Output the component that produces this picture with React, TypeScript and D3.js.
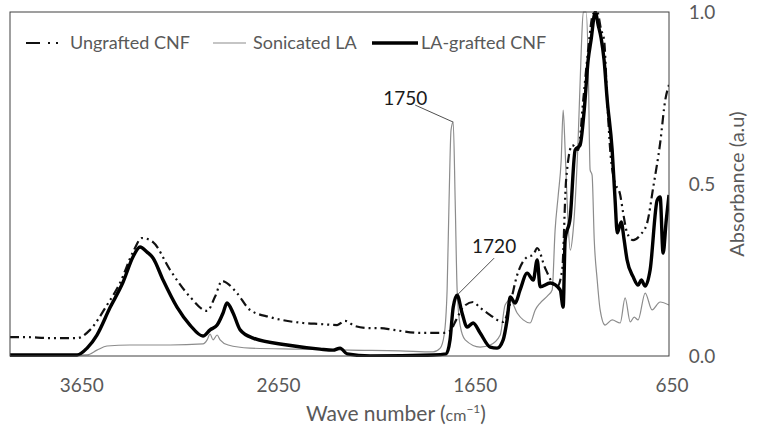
import { useEffect, type FC } from 'react';
import * as d3 from 'd3';

// wave number (cm-1), absorbance (a.u)
const ungraftedCNF: [number, number][] = [
  [4000, 0.055], [3924, 0.055], [3797, 0.052], [3659, 0.052], [3593, 0.076],
  [3507, 0.148], [3441, 0.212], [3375, 0.302], [3329, 0.343], [3273, 0.331],
  [3186, 0.25], [3085, 0.172], [2998, 0.131], [2958, 0.172], [2922, 0.218],
  [2897, 0.212], [2846, 0.183], [2780, 0.134], [2678, 0.113], [2510, 0.096],
  [2424, 0.093], [2337, 0.09], [2297, 0.102], [2246, 0.087], [2169, 0.081],
  [2119, 0.081], [2052, 0.076], [1915, 0.067], [1798, 0.067], [1763, 0.073],
  [1732, 0.105], [1696, 0.142], [1646, 0.157], [1610, 0.14], [1559, 0.119],
  [1524, 0.105], [1493, 0.099], [1457, 0.154], [1422, 0.235], [1371, 0.288],
  [1340, 0.294], [1320, 0.314], [1280, 0.256], [1219, 0.201], [1193, 0.25],
  [1173, 0.512], [1142, 0.613], [1112, 0.599], [1086, 0.744], [1061, 0.89],
  [1036, 0.994], [1015, 1.0], [995, 0.948], [980, 0.919], [964, 0.744],
  [949, 0.599], [929, 0.512], [898, 0.468], [883, 0.416], [863, 0.358],
  [832, 0.337], [796, 0.352], [761, 0.387], [730, 0.491], [695, 0.619],
  [669, 0.744], [650, 0.788],
];

const sonicatedLA: [number, number][] = [
  [4000, 0.0], [3608, 0.003], [3558, 0.017], [3507, 0.029], [3390, 0.032],
  [3186, 0.032], [3019, 0.035], [2998, 0.047], [2983, 0.064], [2968, 0.047],
  [2947, 0.061], [2932, 0.047], [2891, 0.032], [2780, 0.023], [2525, 0.02],
  [2271, 0.017], [2017, 0.015], [1849, 0.012], [1813, 0.023], [1793, 0.061],
  [1778, 0.192], [1768, 0.453], [1758, 0.657], [1747, 0.68], [1737, 0.453],
  [1727, 0.192], [1712, 0.09], [1686, 0.047], [1610, 0.026], [1559, 0.032],
  [1508, 0.061], [1483, 0.148], [1457, 0.163], [1422, 0.125], [1391, 0.105],
  [1356, 0.096], [1330, 0.134], [1305, 0.154], [1264, 0.177], [1244, 0.192],
  [1229, 0.366], [1213, 0.468], [1198, 0.57], [1188, 0.715], [1178, 0.599],
  [1168, 0.453], [1152, 0.308], [1137, 0.366], [1112, 0.628], [1096, 0.89],
  [1086, 1.0], [1071, 1.0], [1061, 0.86], [1051, 0.541], [1041, 0.526],
  [1030, 0.337], [1015, 0.221], [1000, 0.134], [975, 0.09], [939, 0.105],
  [898, 0.096], [873, 0.169], [847, 0.099], [827, 0.113], [807, 0.105],
  [771, 0.183], [736, 0.134], [695, 0.157], [650, 0.148],
];

const laGraftedCNF: [number, number][] = [
  [4000, 0.003], [3659, 0.003], [3608, 0.023], [3558, 0.061], [3492, 0.14],
  [3425, 0.215], [3375, 0.288], [3339, 0.317], [3303, 0.302], [3273, 0.285],
  [3222, 0.221], [3151, 0.142], [3085, 0.09], [3019, 0.058], [2983, 0.076],
  [2947, 0.09], [2917, 0.125], [2897, 0.154], [2866, 0.125], [2830, 0.076],
  [2764, 0.052], [2591, 0.032], [2424, 0.02], [2358, 0.017], [2322, 0.023],
  [2286, 0.006], [2169, 0.0], [1849, 0.003], [1783, 0.006], [1763, 0.047],
  [1747, 0.142], [1727, 0.177], [1702, 0.125], [1676, 0.084], [1646, 0.096],
  [1610, 0.067], [1559, 0.026], [1524, 0.023], [1493, 0.047], [1473, 0.105],
  [1457, 0.172], [1432, 0.154], [1407, 0.192], [1371, 0.241], [1340, 0.221],
  [1320, 0.279], [1305, 0.201], [1254, 0.212], [1203, 0.192], [1188, 0.142],
  [1178, 0.337], [1152, 0.404], [1127, 0.599], [1102, 0.613], [1081, 0.715],
  [1061, 0.86], [1046, 0.919], [1025, 1.0], [1010, 0.962], [995, 0.924],
  [980, 0.86], [964, 0.744], [939, 0.599], [924, 0.453], [913, 0.358],
  [893, 0.39], [878, 0.337], [863, 0.279], [832, 0.23], [807, 0.206],
  [791, 0.221], [771, 0.203], [746, 0.25], [710, 0.453], [695, 0.462],
  [680, 0.299], [664, 0.395], [650, 0.468],
];

const xTicks = [3650, 2650, 1650, 650];
const yTicks = [0, 0.5, 1.0];

// leader line goes from the peak by (dx, dy); label sits at the line end
const annotations = [
  { label: '1750', wn: 1747, abs: 0.68, dx: -38, dy: -17, tx: -10, ty: 0 },
  { label: '1720', wn: 1727, abs: 0.177, dx: 37, dy: -37, tx: 0, ty: -5 },
];

const legendItems = [
  { name: 'Ungrafted CNF', key: 'ungrafted' },
  { name: 'Sonicated LA', key: 'sonicated' },
  { name: 'LA-grafted CNF', key: 'grafted' },
];

const styles: Record<string, { stroke: string; width: number; dash?: string }> = {
  ungrafted: { stroke: '#111', width: 2.2, dash: '9,4,2,4,2,4' },
  sonicated: { stroke: '#8c8c8c', width: 1.2 },
  grafted: { stroke: '#000', width: 3.4 },
};

const W = 760;
const H = 440;
const plot = { left: 10, right: 669, top: 12, bottom: 356 };
const FONT = 'Lato, "Open Sans", sans-serif';
const TEXT = '#595959';

const App: FC = () => {
  useEffect(() => {
    document.body.style.margin = '0';
  }, []);

  const x = d3.scaleLinear().domain([4000, 650]).range([plot.left, plot.right]);
  const y = d3.scaleLinear().domain([0, 1]).range([plot.bottom, plot.top]);

  const line = d3
    .line<[number, number]>()
    .x((d) => x(d[0]))
    .y((d) => y(d[1]))
    .curve(d3.curveMonotoneX);

  const series = [
    { key: 'sonicated', data: sonicatedLA },
    { key: 'ungrafted', data: ungraftedCNF },
    { key: 'grafted', data: laGraftedCNF },
  ];

  // legend layout (x of sample start, sample end, text start)
  const legendPos = [
    { x0: 26, x1: 64, tx: 70 },
    { x0: 213, x1: 246, tx: 253 },
    { x0: 372, x1: 418, tx: 421 },
  ];

  return (
    <svg
      width={W}
      height={H}
      style={{ position: 'absolute', left: 0, top: 0, background: '#fff' }}
      fontFamily={FONT}
    >
      <defs>
        <clipPath id="plot-clip">
          <rect
            x={plot.left}
            y={plot.top - 1}
            width={plot.right - plot.left}
            height={plot.bottom - plot.top + 2}
          />
        </clipPath>
      </defs>

      <g clipPath="url(#plot-clip)">
        {series.map((s) => (
          <path
            key={s.key}
            d={line(s.data) ?? ''}
            fill="none"
            stroke={styles[s.key].stroke}
            strokeWidth={styles[s.key].width}
            strokeDasharray={styles[s.key].dash}
            strokeLinejoin="round"
          />
        ))}
      </g>

      <rect
        x={plot.left}
        y={plot.top}
        width={plot.right - plot.left}
        height={plot.bottom - plot.top}
        fill="none"
        stroke="#404040"
        strokeWidth={1}
      />

      {/* peak labels */}
      {annotations.map((a) => {
        const ex = x(a.wn) + a.dx;
        const ey = y(a.abs) + a.dy;
        return (
          <g key={a.label}>
            <line
              x1={x(a.wn)}
              y1={y(a.abs)}
              x2={ex}
              y2={ey}
              stroke="#222"
              strokeWidth={0.8}
            />
            <text
              x={ex + a.tx}
              y={ey + a.ty}
              textAnchor="middle"
              fontSize={19}
              fill="#1a1a1a"
            >
              {a.label}
            </text>
          </g>
        );
      })}

      {/* x tick labels */}
      {xTicks.map((t) => (
        <text key={t} x={x(t) + 3} y={392} textAnchor="middle" fontSize={19} fill={TEXT}>
          {t}
        </text>
      ))}

      {/* y tick labels, right side */}
      {yTicks.map((t) => (
        <text
          key={t}
          x={702}
          y={y(t)}
          dy="0.35em"
          textAnchor="middle"
          fontSize={19}
          fill={TEXT}
        >
          {t.toFixed(1)}
        </text>
      ))}

      <text
        transform={`translate(744, ${(plot.top + plot.bottom) / 2}) rotate(-90)`}
        textAnchor="middle"
        fontSize={20}
        fill={TEXT}
      >
        Absorbance (a.u)
      </text>

      <text x={396} y={421} textAnchor="middle" fontSize={21} fill={TEXT}>
        Wave number (<tspan fontSize={16}>cm</tspan>
        <tspan fontSize={12} dy={-8}>−1</tspan>
        <tspan dy={8}>)</tspan>
      </text>

      {/* legend */}
      {legendItems.map((item, i) => {
        const p = legendPos[i];
        const st = styles[item.key];
        return (
          <g key={item.key}>
            <line
              x1={p.x0}
              x2={p.x1}
              y1={43}
              y2={43}
              stroke={st.stroke}
              strokeWidth={st.width}
              strokeDasharray={item.key === 'ungrafted' ? '14,8,2,6,2,6' : undefined}
            />
            <text x={p.tx} y={43} dy="0.35em" fontSize={18} fill={TEXT}>
              {item.name}
            </text>
          </g>
        );
      })}
    </svg>
  );
};

export default App;
